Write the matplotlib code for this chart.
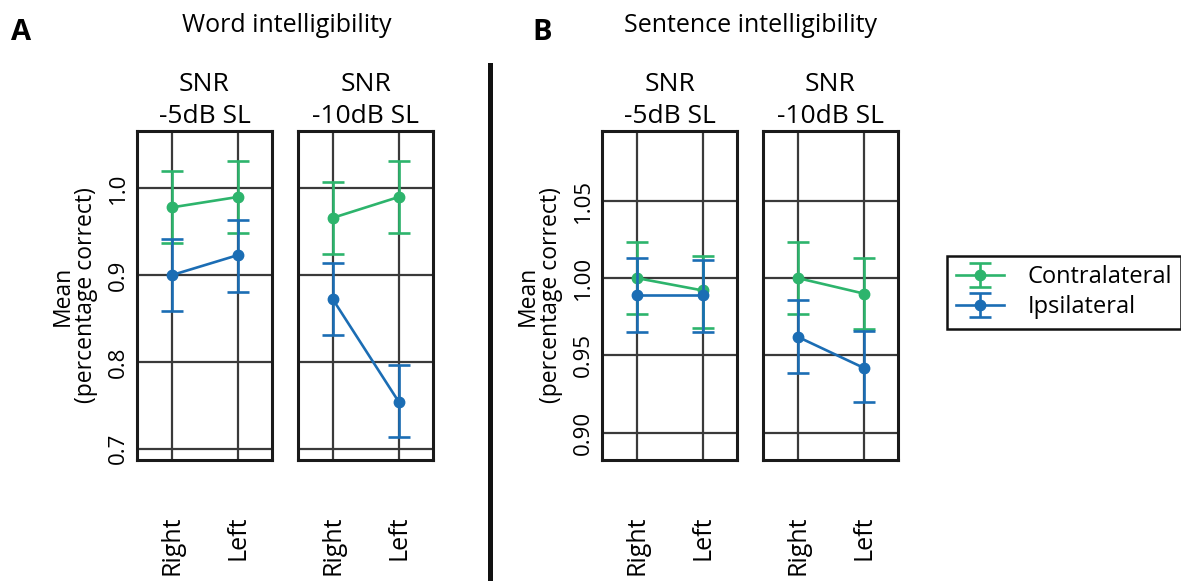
import matplotlib
matplotlib.use('Agg')
from matplotlib import pyplot as plt
from matplotlib.lines import Line2D
import numpy as np

plt.rcParams['font.family'] = ['Open Sans', 'DejaVu Sans']

# categories
sides = ['Right', 'Left']
conditions = ['SNR\n-5dB SL', 'SNR\n-10dB SL']

# Word intelligibility (panel A): mean, lower, upper per condition
word_contra_mean = [[0.978, 0.990], [0.966, 0.990]]
word_contra_lo = [[0.937, 0.948], [0.924, 0.948]]
word_contra_hi = [[1.020, 1.031], [1.007, 1.032]]
word_ipsi_mean = [[0.900, 0.923], [0.872, 0.754]]
word_ipsi_lo = [[0.859, 0.881], [0.831, 0.713]]
word_ipsi_hi = [[0.942, 0.964], [0.914, 0.797]]

# Sentence intelligibility (panel B)
sent_contra_mean = [[1.000, 0.992], [1.000, 0.990]]
sent_contra_lo = [[0.977, 0.968], [0.977, 0.967]]
sent_contra_hi = [[1.023, 1.014], [1.023, 1.013]]
sent_ipsi_mean = [[0.989, 0.989], [0.962, 0.942]]
sent_ipsi_lo = [[0.965, 0.965], [0.939, 0.920]]
sent_ipsi_hi = [[1.013, 1.012], [0.986, 0.966]]

word_ticks = [0.7, 0.8, 0.9, 1.0]
word_ticklabels = ['0.7', '0.8', '0.9', '1.0']
sent_ticks = [0.90, 0.95, 1.00, 1.05]
sent_ticklabels = ['0.90', '0.95', '1.00', '1.05']

GREEN = '#2db46c'
BLUE = '#1b6db4'
W, H = 1181, 581

fig = plt.figure(figsize=(W / 100, H / 100), dpi=100)


def px_axes(x0, x1, y0, y1):
    return fig.add_axes([x0 / W, (H - y1) / H, (x1 - x0) / W, (y1 - y0) / H])


def draw_panel(ax, title, cm, cl, ch, im, il, ih, ylim, ticks, ticklabels, first, ypad):
    x = np.arange(1, len(sides) + 1)
    cm, cl, ch = np.array(cm), np.array(cl), np.array(ch)
    im, il, ih = np.array(im), np.array(il), np.array(ih)
    hc = ax.errorbar(x, cm, yerr=[cm - cl, ch - cm], color=GREEN, marker='o', ms=7.5,
                     lw=1.9, elinewidth=1.9, capsize=8, capthick=1.9, zorder=3)
    hi = ax.errorbar(x, im, yerr=[im - il, ih - im], color=BLUE, marker='o', ms=7.5,
                     lw=1.9, elinewidth=1.9, capsize=8, capthick=1.9, zorder=4)
    ax.set_xlim(0.47, 2.52)
    ax.set_ylim(*ylim)
    ax.set_xticks(x)
    ax.set_xticklabels(sides, rotation=90, fontsize=18)
    ax.set_yticks(ticks)
    if first:
        ax.set_yticklabels(ticklabels, rotation=90, va='center', fontsize=16)
        ax.set_ylabel('Mean\n(percentage correct)', fontsize=16.5, labelpad=ypad,
                      linespacing=0.95)
    else:
        ax.set_yticklabels([])
    ax.tick_params(axis='x', length=0, pad=40)
    ax.tick_params(axis='y', length=0, pad=6)
    ax.grid(True, color='#3a3a3a', lw=1.6)
    ax.set_axisbelow(True)
    for s in ax.spines.values():
        s.set_color('#1a1a1a')
        s.set_linewidth(2.2)
    ax.set_title(title, fontsize=19, linespacing=1.35, pad=6)
    return hc, hi


wordA = [(137, 272), (298, 433)]
sentB = [(602, 737), (763, 898)]
for k, (x0, x1) in enumerate(wordA):
    ax = px_axes(x0, x1, 131, 460)
    draw_panel(ax, conditions[k], word_contra_mean[k], word_contra_lo[k], word_contra_hi[k],
               word_ipsi_mean[k], word_ipsi_lo[k], word_ipsi_hi[k],
               (0.687, 1.066), word_ticks, word_ticklabels, k == 0, 7)
for k, (x0, x1) in enumerate(sentB):
    ax = px_axes(x0, x1, 131, 460)
    hc, hi = draw_panel(ax, conditions[k], sent_contra_mean[k], sent_contra_lo[k],
                        sent_contra_hi[k], sent_ipsi_mean[k], sent_ipsi_lo[k],
                        sent_ipsi_hi[k], (0.8825, 1.095), sent_ticks, sent_ticklabels,
                        k == 0, 7)

fig.text(287 / W, 1 - 26 / H, 'Word intelligibility', ha='center', va='center', fontsize=18)
fig.text(750 / W, 1 - 26 / H, 'Sentence intelligibility', ha='center', va='center', fontsize=18)
fig.text(11 / W, 1 - 33 / H, 'A', ha='left', va='center', fontsize=21, fontweight='bold')
fig.text(532 / W, 1 - 33 / H, 'B', ha='left', va='center', fontsize=21, fontweight='bold')

fig.add_artist(Line2D([490 / W, 490 / W], [0, 1 - 65 / H], color='#111111', lw=3.6,
                      transform=fig.transFigure))

leg = fig.legend([hc, hi], ['Contralateral', 'Ipsilateral'], loc='upper left',
                 bbox_to_anchor=(947 / W, 1 - 256 / H), fontsize=17, fancybox=False,
                 edgecolor='#111111', framealpha=1, borderpad=0.4, labelspacing=0.25,
                 handlelength=2.0, handletextpad=1.0, borderaxespad=0)
leg.get_frame().set_linewidth(1.8)

fig.savefig('out.png', dpi=100)
